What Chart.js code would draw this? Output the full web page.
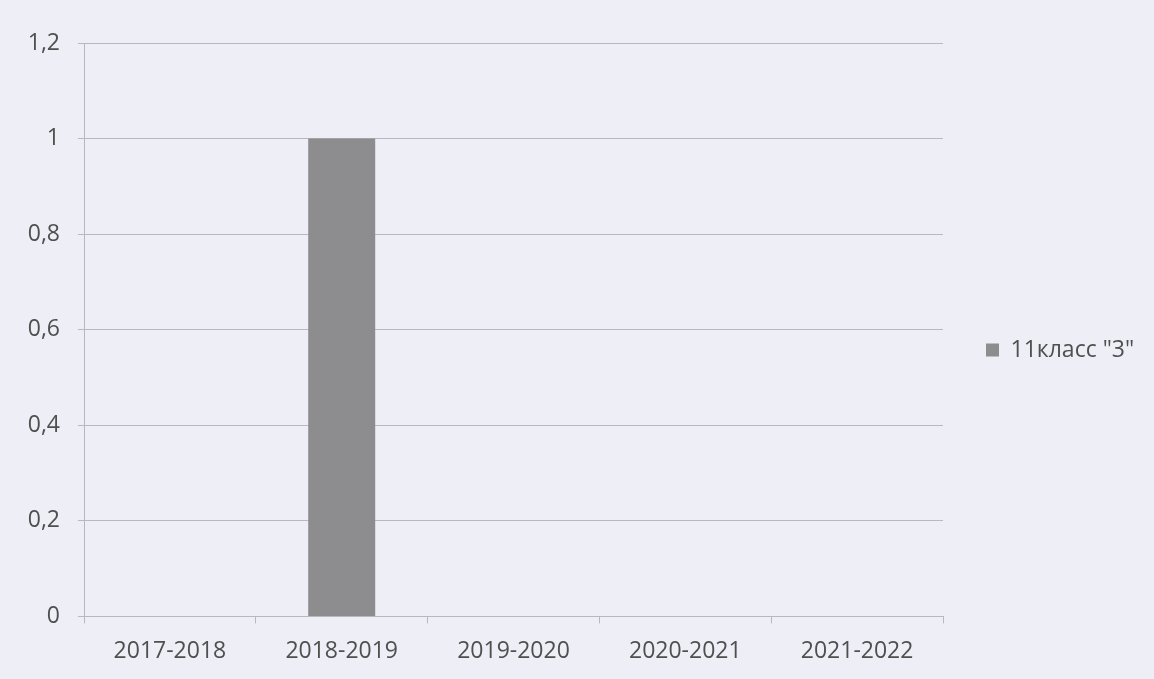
<!DOCTYPE html>
<html>
<head>
<meta charset="utf-8">
<script src="https://cdn.jsdelivr.net/npm/chart.js@4"></script>
<style>
html,body{margin:0;padding:0;background:#eeeef7;}
#wrap{width:1154px;height:679px;position:relative;}
</style>
</head>
<body>
<div id="wrap"><canvas id="c" width="1154" height="679"></canvas></div>
<script>
const categories = ['2017-2018', '2018-2019', '2019-2020', '2020-2021', '2021-2022'];
const seriesName = '11класс "3"';
const seriesValues = [0, 1, 0, 0, 0];
const yTickValues = [0, 0.2, 0.4, 0.6, 0.8, 1, 1.2];
const yTickLabels = ['0', '0,2', '0,4', '0,6', '0,8', '1', '1,2'];

const textColor = '#4f4f4f';
const gridColor = '#b9b8bd';
const font = { family: '"Open Sans", sans-serif', size: 23 };

const legendWidthPlugin = {
  id: 'legendWidth',
  beforeLayout(chart) {
    const lg = chart.legend;
    if (lg && !lg._patched) {
      const orig = lg.fit;
      lg.fit = function () {
        orig.call(this);
        this.width = 211;
      };
      lg._patched = true;
    }
  },
  afterLayout(chart) {
    const lg = chart.legend;
    if (lg) {
      lg.bottom -= 22;
      lg.height = lg.bottom - lg.top;
    }
  }
};

new Chart(document.getElementById('c'), {
  type: 'bar',
  data: {
    labels: categories,
    datasets: [{
      label: seriesName,
      data: seriesValues,
      backgroundColor: '#8d8d90',
      borderWidth: 0,
      barPercentage: 0.39,
      categoryPercentage: 1
    }]
  },
  plugins: [legendWidthPlugin],
  options: {
    responsive: false,
    animation: false,
    layout: { padding: { top: 43, bottom: 0, left: 0, right: 0 } },
    plugins: {
      legend: {
        position: 'right',
        labels: {
          color: textColor,
          font: font,
          boxWidth: 13,
          boxHeight: 13,
          padding: 43
        }
      },
      tooltip: { enabled: false }
    },
    scales: {
      x: {
        grid: {
          display: true,
          drawOnChartArea: false,
          drawTicks: true,
          tickLength: 7,
          color: gridColor,
          offset: true
        },
        border: { display: true, color: gridColor, width: 1 },
        ticks: { color: textColor, font: font, padding: 14, maxRotation: 0 }
      },
      y: {
        min: 0,
        max: 1.2,
        afterBuildTicks: (scale) => { scale.ticks = yTickValues.map(v => ({ value: v })); },
        afterFit: (scale) => { scale.width = 84; },
        grid: {
          color: gridColor,
          drawTicks: true,
          tickLength: 6
        },
        border: { display: true, color: gridColor, width: 1 },
        ticks: {
          color: textColor,
          font: font,
          padding: 18,
          callback: (value) => {
            const i = yTickValues.findIndex(v => Math.abs(v - value) < 1e-9);
            return i >= 0 ? yTickLabels[i] : '';
          }
        }
      }
    }
  }
});
</script>
</body>
</html>
